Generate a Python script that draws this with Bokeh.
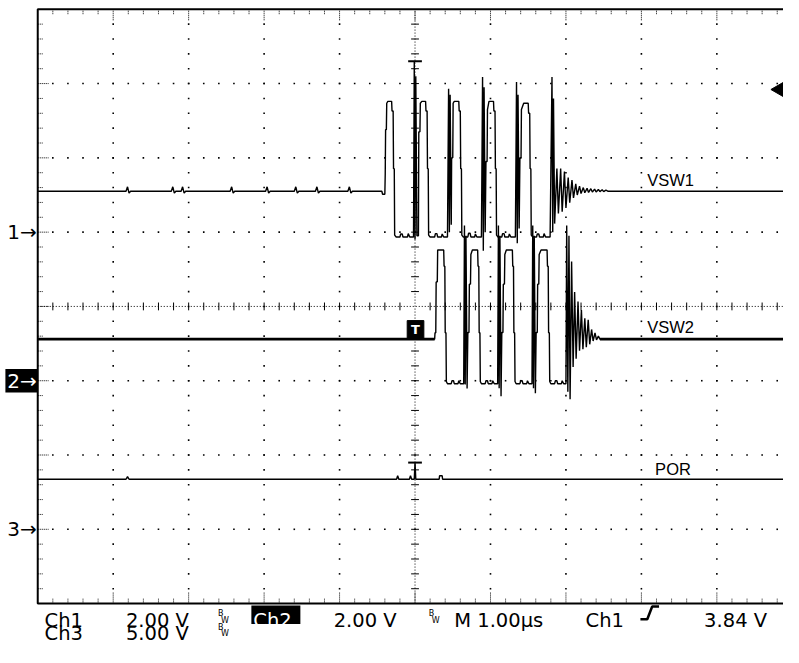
import numpy as np
from bokeh.plotting import figure
from bokeh.models import Range1d
from bokeh.embed import file_html
from bokeh.resources import INLINE
from bokeh.core.properties import value

# ---------------- scope settings / data ----------------
time_per_div_us = 1.0
ch_volts_per_div = [2.0, 2.0, 5.0]
ch_ground_div = [1.0, -1.0, -3.0]
ch_names = ["VSW1", "VSW2", "POR"]
trigger_t = 0.0
trigger_level_v = 3.84

# Ch1 (VSW1)
ch1_baseline_v = 1.10
ch1_glitch_t = [-3.81, -3.21, -3.08, -2.43, -1.96, -1.58, -1.30, -0.87]
glitch_dt = [-0.02, 0.0, 0.02, 0.04]
glitch_dv = [0.0, 0.12, -0.05, 0.0]
ch1_burst_t = [
    -0.44, -0.43, -0.40, -0.395, -0.39, -0.38, -0.375, -0.36, -0.31, -0.305, -0.29, -0.285, -0.275, -0.27, -0.25,
    -0.20, -0.19, -0.17, -0.16, -0.10, -0.09, -0.07, -0.02,
    -0.01, 0.0, 0.01, 0.025, 0.045, 0.05, 0.065, 0.07, 0.09, 0.14, 0.145, 0.16, 0.165, 0.175, 0.18, 0.20,
    0.26, 0.27, 0.29, 0.30, 0.35, 0.36, 0.38, 0.43,
    0.445, 0.455, 0.465, 0.48, 0.485, 0.50, 0.505, 0.52, 0.58, 0.585, 0.60, 0.605, 0.615, 0.62, 0.64,
    0.70, 0.71, 0.73, 0.74, 0.79, 0.80, 0.82, 0.88,
    0.895, 0.905, 0.915, 0.93, 0.94, 0.955, 0.96, 0.98, 1.04, 1.045, 1.06, 1.065, 1.075, 1.08, 1.10,
    1.15, 1.16, 1.18, 1.19, 1.24, 1.25, 1.27, 1.33,
    1.345, 1.355, 1.365, 1.38, 1.39, 1.405, 1.41, 1.44, 1.50, 1.505, 1.52, 1.525, 1.535, 1.54, 1.56,
    1.61, 1.62, 1.64, 1.65, 1.70, 1.71, 1.73, 1.79,
    1.815, 1.825, 1.835, 1.85,
    1.88, 1.90, 1.93, 1.95, 1.98, 2.00, 2.03, 2.05, 2.08, 2.10, 2.13, 2.15, 2.18, 2.20, 2.23, 2.25,
    2.28, 2.30, 2.33, 2.35, 2.38, 2.40, 2.43, 2.45, 2.48, 2.50, 2.53, 2.56,
]
ch1_burst_v = [
    1.10, 1.02, 1.02, 1.55, 2.76, 2.76, 3.47, 3.52, 3.52, 3.26, 3.26, 1.71, 1.71, -0.08, -0.13,
    -0.13, -0.05, -0.05, -0.13, -0.13, -0.04, -0.13, -0.13,
    4.60, -0.20, 4.20, -0.10, -0.10, 2.70, 2.70, 3.47, 3.52, 3.52, 3.26, 3.26, 1.71, 1.71, -0.08, -0.13,
    -0.13, -0.04, -0.04, -0.13, -0.13, -0.05, -0.13, -0.13,
    3.86, 0.00, 3.70, 0.20, 2.00, 2.00, 3.47, 3.52, 3.52, 3.26, 3.26, 1.71, 1.71, -0.08, -0.13,
    -0.13, -0.03, -0.03, -0.13, -0.13, -0.05, -0.13, -0.13,
    4.18, -0.50, 3.90, 0.00, 1.90, 1.90, 3.30, 3.52, 3.52, 3.26, 3.26, 1.71, 1.71, -0.08, -0.13,
    -0.13, -0.04, -0.04, -0.13, -0.13, -0.05, -0.13, -0.13,
    4.04, -0.30, 3.70, 0.10, 2.00, 2.00, 3.30, 3.47, 3.47, 3.20, 3.20, 1.71, 1.71, -0.08, -0.13,
    -0.13, -0.05, -0.05, -0.13, -0.13, -0.04, -0.13, -0.13,
    4.18, 0.00, 3.60, 0.23,
    1.71, 0.50, 1.71, 0.55, 1.63, 0.65, 1.47, 0.79, 1.40, 0.92, 1.30, 1.00, 1.24, 1.04, 1.20, 1.06,
    1.18, 1.07, 1.17, 1.08, 1.16, 1.08, 1.15, 1.09, 1.14, 1.09, 1.13, 1.10,
]

# Ch2 (VSW2)
ch2_baseline_v = 1.12
ch2_burst_t = [
    0.26, 0.265, 0.275, 0.28, 0.295, 0.30, 0.38, 0.385, 0.395, 0.40, 0.41, 0.415, 0.43,
    0.48, 0.49, 0.51, 0.52, 0.57, 0.58, 0.60, 0.645,
    0.655, 0.665, 0.675, 0.69, 0.70, 0.715, 0.72, 0.735, 0.74, 0.76, 0.83, 0.835, 0.845, 0.85, 0.86, 0.865, 0.88,
    0.93, 0.94, 0.96, 0.97, 1.02, 1.03, 1.05, 1.095,
    1.105, 1.115, 1.125, 1.14, 1.15, 1.165, 1.17, 1.185, 1.19, 1.21, 1.29, 1.295, 1.305, 1.31, 1.32, 1.325, 1.34,
    1.39, 1.40, 1.42, 1.43, 1.48, 1.49, 1.51, 1.55,
    1.56, 1.57, 1.58, 1.595, 1.605, 1.62, 1.625, 1.64, 1.645, 1.67, 1.75, 1.755, 1.765, 1.77, 1.78, 1.785, 1.80,
    1.85, 1.86, 1.88, 1.89, 1.94, 1.95, 1.97, 2.00,
    2.01, 2.025, 2.04, 2.055, 2.075, 2.095, 2.115, 2.135, 2.16, 2.18, 2.205, 2.225, 2.25, 2.27, 2.295, 2.315,
    2.34, 2.36, 2.385, 2.405, 2.43, 2.45,
]
ch2_burst_v = [
    1.12, 1.29, 1.29, 2.66, 2.66, 3.52, 3.52, 3.08, 3.08, 1.29, 1.29, -0.02, -0.08,
    -0.08, 0.00, 0.00, -0.08, -0.08, 0.00, -0.08, -0.08,
    4.18, -0.10, 3.90, -0.21, 1.30, 1.30, 2.60, 2.60, 3.40, 3.52, 3.52, 3.08, 3.08, 1.29, 1.29, -0.02, -0.08,
    -0.08, 0.00, 0.00, -0.08, -0.08, 0.00, -0.08, -0.08,
    4.18, -0.20, 3.90, -0.42, 1.30, 1.30, 2.60, 2.60, 3.40, 3.52, 3.52, 3.08, 3.08, 1.29, 1.29, -0.02, -0.08,
    -0.08, 0.00, 0.00, -0.08, -0.08, 0.00, -0.08, -0.08,
    4.18, -0.20, 3.90, -0.34, 1.30, 1.30, 2.60, 2.60, 3.40, 3.52, 3.52, 3.08, 3.08, 1.29, 1.29, -0.02, -0.08,
    -0.08, 0.00, 0.00, -0.08, -0.08, 0.00, -0.08, -0.08,
    4.18, -0.30, 3.90, -0.50, 3.21, 0.37, 2.39, 0.59, 2.13, 0.81, 1.90, 0.85, 1.68, 0.90, 1.64, 0.98,
    1.38, 1.07, 1.29, 1.10, 1.20, 1.12,
]

# Ch3 (POR)
ch3_baseline_v = 3.37
ch3_event_t = [-3.83, -3.81, -3.79, -0.245, -0.23, -0.215, -0.075, -0.06, -0.045,
               -0.01, 0.0, 0.01, 0.32, 0.325, 0.36, 0.365]
ch3_event_v = [3.37, 3.55, 3.37, 3.37, 3.60, 3.37, 3.37, 3.60, 3.37,
               3.37, 4.49, 3.37, 3.37, 3.60, 3.60, 3.37]

# ---------------- geometry helpers (reference pixels -> data) ----------------
REF_W, REF_H = 799, 663
PX_PER_DIV_X = 77.0
PX_PER_DIV_Y = 76.125
def px(xp):
    return (xp - 423.0) / PX_PER_DIV_X
def py(yp):
    return (313.5 - yp) / PX_PER_DIV_Y
DX = 1.0 / PX_PER_DIV_X   # one reference pixel in x data units
DY = 1.0 / PX_PER_DIV_Y   # one reference pixel in y data units

W, H = 783, 647
p = figure(width=W, height=H, output_backend="svg", toolbar_location=None,
           x_range=Range1d(px(0), px(REF_W)), y_range=Range1d(py(REF_H), py(0)),
           x_axis_type=None, y_axis_type=None,
           min_border_left=0, min_border_right=0, min_border_top=0, min_border_bottom=0)
p.outline_line_color = None
p.background_fill_color = "white"
p.border_fill_color = "white"

XL, XR = -5.0, px(REF_W)
YB, YT = -4.0, 4.0

# ---------------- graticule ----------------
dots_x, dots_y = [], []
minor_y = np.round(np.arange(-4 + 0.2, 4 - 0.1, 0.2), 3)
for gx in [-4, -3, -2, -1, 1, 2, 3, 4]:
    for d in minor_y:
        dots_x.append(gx); dots_y.append(d)
minor_x = np.round(np.arange(-5 + 0.2, XR, 0.2), 3)
for gy in [-3, -2, -1, 1, 2, 3]:
    for t in minor_x:
        dots_x.append(t); dots_y.append(gy)
p.scatter(dots_x, dots_y, marker="square", size=1.6, color="black", line_color=None)

# center cross (dense dotted + ticks)
p.line([XL, XR], [0, 0], line_color="black", line_width=1, line_dash="1 2")
p.line([0, 0], [YB, YT], line_color="black", line_width=1, line_dash="1 2")
ct = minor_x[np.abs(minor_x) > 1e-6]
p.segment(x0=ct, y0=-4 * DY, x1=ct, y1=4 * DY, line_color="black", line_width=1)
cd = minor_y[np.abs(minor_y) > 1e-6]
p.segment(x0=-4 * DX, y0=cd, x1=4 * DX, y1=cd, line_color="black", line_width=1)

# border ticks
is_major_x = np.abs(minor_x - np.round(minor_x)) < 1e-6
tx_min, tx_maj = minor_x[~is_major_x], minor_x[is_major_x]
p.segment(x0=tx_min, y0=YT, x1=tx_min, y1=YT - 5 * DY, line_color="black", line_width=1, line_dash="1 1")
p.segment(x0=tx_min, y0=YB, x1=tx_min, y1=YB + 5 * DY, line_color="black", line_width=1, line_dash="1 1")
p.segment(x0=tx_maj, y0=YT, x1=tx_maj, y1=YT - 12 * DY, line_color="black", line_width=1, line_dash="1 1")
p.segment(x0=tx_maj, y0=YB, x1=tx_maj, y1=YB + 12 * DY, line_color="black", line_width=1, line_dash="1 1")
is_major_y = np.abs(minor_y - np.round(minor_y)) < 1e-6
ty_min, ty_maj = minor_y[~is_major_y], minor_y[is_major_y]
p.segment(x0=XL, y0=ty_min, x1=XL + 5 * DX, y1=ty_min, line_color="black", line_width=1, line_dash="1 1")
p.segment(x0=XL, y0=ty_maj, x1=XL + 11 * DX, y1=ty_maj, line_color="black", line_width=1, line_dash="1 1")

# screen border (left, top, bottom)
p.line([XR, XL, XL, XR], [YT, YT, YB, YB], line_color="black", line_width=2)

# ---------------- traces ----------------
def to_div(v, ch):
    return ch_ground_div[ch] + np.asarray(v, dtype=float) / ch_volts_per_div[ch]

# Ch1
t1 = [-5.0]; v1 = [ch1_baseline_v]
for g in ch1_glitch_t:
    for dt, dv in zip(glitch_dt, glitch_dv):
        t1.append(g + dt); v1.append(ch1_baseline_v + dv)
t1 += ch1_burst_t + [XR]
v1 += ch1_burst_v + [ch1_baseline_v]
p.line(np.array(t1) / time_per_div_us, to_div(v1, 0), line_color="black", line_width=1.4)

# Ch2 (noisy baseline shown as a heavier trace)
t2 = [-5.0] + ch2_burst_t + [XR]
v2 = [ch2_baseline_v] + ch2_burst_v + [ch2_baseline_v]
p.line(np.array(t2) / time_per_div_us, to_div(v2, 1), line_color="black", line_width=1.4)
b2 = float(to_div([ch2_baseline_v], 1)[0])
p.line([-5.0, ch2_burst_t[0]], [b2, b2], line_color="black", line_width=2.6)
p.line([ch2_burst_t[-1], XR], [b2, b2], line_color="black", line_width=2.6)

# Ch3
t3 = [-5.0] + ch3_event_t + [XR]
v3 = [ch3_baseline_v] + ch3_event_v + [ch3_baseline_v]
p.line(np.array(t3) / time_per_div_us, to_div(v3, 2), line_color="black", line_width=1.4)

# trigger "T" marks
top1 = float(to_div([max(ch1_burst_v)], 0)[0])
top3 = float(to_div([max(ch3_event_v)], 2)[0])
p.segment(x0=[trigger_t - 7 * DX, trigger_t - 7 * DX], y0=[top1, top3],
          x1=[trigger_t + 7 * DX, trigger_t + 7 * DX], y1=[top1, top3],
          line_color="black", line_width=2)
p.quad(left=trigger_t - 8 * DX, right=trigger_t + 9 * DX, bottom=b2, top=b2 + 19 * DY,
       fill_color="black", line_color="black")
p.text(x=[trigger_t + 0.5 * DX], y=[b2 + 9.5 * DY], text=["T"], text_color="white",
       text_font=value("DejaVu Sans"), text_font_size="13px", text_font_style="bold",
       text_align="center", text_baseline="middle")

# trigger level indicator (right edge)
p.scatter([px(795)], [to_div([trigger_level_v], 0)[0]], marker="triangle", size=15,
          angle=np.pi / 2, color="black")

# channel names
lab_font = value("Liberation Sans")
p.text(x=[px(660), px(660), px(668)], y=[py(184), py(335), py(480)], text=ch_names,
       text_font=lab_font, text_font_size="16.5px", text_color="black",
       text_align="left", text_baseline="alphabetic")

# ground markers
scope_font = value("DejaVu Sans")
FS = "19.5px"
p.text(x=[px(37), px(37)], y=[ch_ground_div[0], ch_ground_div[2]], text=["1\u2192", "3\u2192"],
       text_font=scope_font, text_font_size="20px", text_color="black",
       text_align="right", text_baseline="middle")
p.quad(left=px(5), right=px(38), bottom=ch_ground_div[1] - 12 * DY, top=ch_ground_div[1] + 12 * DY,
       fill_color="black", line_color=None)
p.text(x=[px(37)], y=[ch_ground_div[1]], text=["2\u2192"], text_font=scope_font,
       text_font_size="20px", text_color="white", text_align="right", text_baseline="middle")

# ---------------- status line ----------------
row1 = py(635)
row2 = py(649)
p.text(x=[px(45), px(128), px(340), px(463), px(597), px(718)], y=[row1] * 6,
       text=["Ch1", "2.00 V", "2.00 V", "M 1.00\u00b5s", "Ch1", "3.84 V"],
       text_font=scope_font, text_font_size=FS, text_color="black",
       text_align="left", text_baseline="alphabetic")
p.quad(left=px(256), right=px(306), bottom=py(639), top=py(620), fill_color="black", line_color=None)
p.text(x=[px(258)], y=[row1], text=["Ch2"], text_font=scope_font, text_font_size=FS,
       text_color="white", text_align="left", text_baseline="alphabetic")
p.text(x=[px(45), px(128)], y=[row2] * 2, text=["Ch3", "5.00 V"],
       text_font=scope_font, text_font_size=FS, text_color="black",
       text_align="left", text_baseline="alphabetic")
# bandwidth-limit marks
bw_x = [px(222), px(437), px(222)]
bw_y = [row1, row1, row2]
p.text(x=bw_x, y=[y + 7 * DY for y in bw_y], text=["B"] * 3, text_font=scope_font,
       text_font_size="8px", text_align="left", text_baseline="alphabetic")
p.text(x=[x + 3 * DX for x in bw_x], y=bw_y, text=["W"] * 3, text_font=scope_font,
       text_font_size="8px", text_align="left", text_baseline="alphabetic")
# trigger slope symbol
p.line([px(653), px(660), px(665), px(672)], [py(634), py(634), py(621), py(621)],
       line_color="black", line_width=2.5)

open("out.html", "w").write(file_html(p, INLINE))
